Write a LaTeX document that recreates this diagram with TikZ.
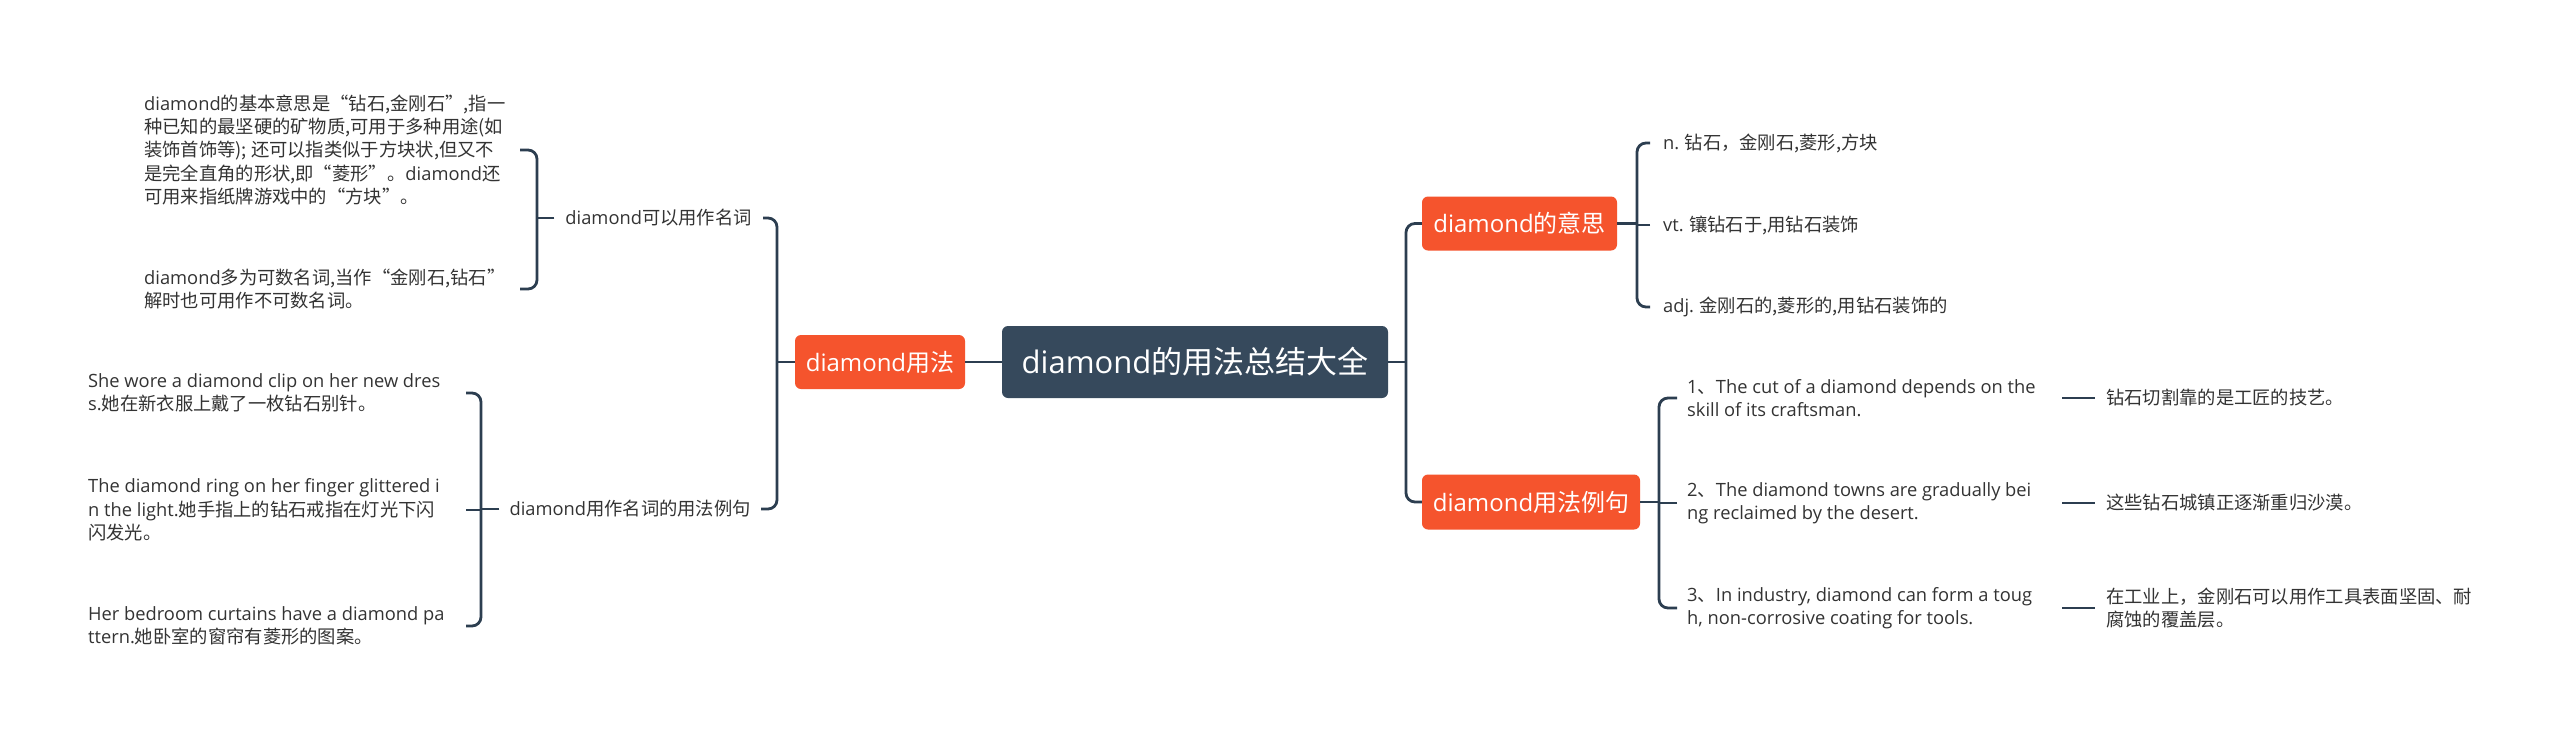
\documentclass[tikz,border=0pt]{standalone}
\usepackage{fontspec}
\setmainfont{Noto Sans CJK SC}
\newfontfamily\enfont{Open Sans}
\newcommand\enx[1]{{\enfont #1}}
\definecolor{rootc}{RGB}{54,73,92}
\definecolor{orangec}{RGB}{245,84,45}
\definecolor{linec}{RGB}{44,62,80}
\definecolor{leafc}{RGB}{51,51,51}
\begin{document}
\begin{tikzpicture}[x=1pt,y=-1pt,
  conn/.style={draw=linec,line width=2.8pt,rounded corners=9pt},
  tick/.style={draw=linec,line width=2.8pt},
  rootbox/.style={fill=rootc,text=white,rounded corners=6pt,minimum width=386pt,minimum height=72pt,inner sep=0pt,font=\fontsize{31}{38}\selectfont},
  mainbr/.style={fill=orangec,text=white,rounded corners=6pt,minimum height=54pt,inner xsep=8pt,font=\fontsize{24}{30}\selectfont},
  leaf/.style={text=leafc,inner sep=0pt,align=left,font=\fontsize{18.3}{23.4}\selectfont}]
\useasboundingbox[fill=white] (0,0) rectangle (2560,737);

% root and main branches
\node[rootbox] (root) at (1195,362) {\enx{diamond}的用法总结大全};
\node[mainbr,minimum width=170pt] (U) at (880,362) {\enx{diamond}用法};
\node[mainbr,minimum width=195pt] (M) at (1519.5,223.5) {\enx{diamond}的意思};
\node[mainbr,minimum width=218pt,minimum height=55pt] (X) at (1531,502) {\enx{diamond}用法例句};

% left subtopics
\node[leaf,anchor=east] (N1) at (752,218) {\enx{diamond}可以用作名词};
\node[leaf,anchor=east] (N2) at (751,509) {\enx{diamond}用作名词的用法例句};

\node[leaf,anchor=west] (L1) at (144,150) {\enx{diamond}的基本意思是“钻石,金刚石”,指一\\种已知的最坚硬的矿物质,可用于多种用途(如\\装饰首饰等); 还可以指类似于方块状,但又不\\是完全直角的形状,即“菱形”。\enx{diamond}还\\可用来指纸牌游戏中的“方块”。};
\node[leaf,anchor=west] (L2) at (144,289) {\enx{diamond}多为可数名词,当作“金刚石,钻石”\\解时也可用作不可数名词。};

\node[leaf,anchor=west] (E1) at (88,393) {\enx{She wore a diamond clip on her new dres}\\\enx{s.}她在新衣服上戴了一枚钻石别针。};
\node[leaf,anchor=west] (E2) at (88,510) {\enx{The diamond ring on her finger glittered i}\\\enx{n the light.}她手指上的钻石戒指在灯光下闪\\闪发光。};
\node[leaf,anchor=west] (E3) at (88,626) {\enx{Her bedroom curtains have a diamond pa}\\\enx{ttern.}她卧室的窗帘有菱形的图案。};

% right leaves
\node[leaf,anchor=west] (R1) at (1663,143) {\enx{n.} 钻石，金刚石,菱形,方块};
\node[leaf,anchor=west] (R2) at (1663,225) {\enx{vt.} 镶钻石于,用钻石装饰};
\node[leaf,anchor=west] (R3) at (1663,307) {\enx{adj.} 金刚石的,菱形的,用钻石装饰的};

\node[leaf,anchor=west] (S1) at (1687,398) {\enx{1}、\enx{The cut of a diamond depends on the}\\\enx{skill of its craftsman.}};
\node[leaf,anchor=west] (S2) at (1687,503) {\enx{2}、\enx{The diamond towns are gradually bei}\\\enx{ng reclaimed by the desert.}};
\node[leaf,anchor=west] (S3) at (1687,608) {\enx{3}、\enx{In industry, diamond can form a toug}\\\enx{h, non-corrosive coating for tools.}};

\node[leaf,anchor=west] (T1) at (2106,398) {钻石切割靠的是工匠的技艺。};
\node[leaf,anchor=west] (T2) at (2106,503) {这些钻石城镇正逐渐重归沙漠。};
\node[leaf,anchor=west] (T3) at (2106,608) {在工业上，金刚石可以用作工具表面坚固、耐\\腐蚀的覆盖层。};

% connector end points
\coordinate (bU) at (777,0);
\coordinate (bN1) at (537,0);
\coordinate (bN2) at (481,0);
\coordinate (bC) at (1406,0);
\coordinate (bM) at (1637,0);
\coordinate (bX) at (1659,0);
\coordinate (N1e) at ([xshift=11pt]N1.east);
\coordinate (N1w) at ([xshift=-11pt]N1.west);
\coordinate (N2e) at ([xshift=10pt]N2.east);
\coordinate (N2w) at ([xshift=-10pt]N2.west);
\coordinate (L1e) at ([xshift=376pt]L1.west);
\coordinate (L2e) at ([xshift=376pt]L2.west);
\coordinate (E1e) at ([xshift=378pt]E1.west);
\coordinate (E2e) at ([xshift=378pt]E2.west);
\coordinate (E3e) at ([xshift=378pt]E3.west);
\coordinate (R1w) at ([xshift=-13pt]R1.west);
\coordinate (R2w) at ([xshift=-13pt]R2.west);
\coordinate (R3w) at ([xshift=-13pt]R3.west);
\coordinate (S1w) at ([xshift=-10pt]S1.west);
\coordinate (S2w) at ([xshift=-10pt]S2.west);
\coordinate (S3w) at ([xshift=-10pt]S3.west);
\coordinate (S1e) at ([xshift=375pt]S1.west);
\coordinate (S2e) at ([xshift=375pt]S2.west);
\coordinate (S3e) at ([xshift=375pt]S3.west);
\coordinate (T1w) at ([xshift=-11pt]T1.west);
\coordinate (T2w) at ([xshift=-11pt]T2.west);
\coordinate (T3w) at ([xshift=-11pt]T3.west);

% connectors
\draw[tick] (root.west) -- (U.east);
\draw[tick] (U.west) -- (U.west -| bU);
\draw[conn] (N1e) -- (N1e -| bU) -- (N2e -| bU) -- (N2e);
\draw[tick] (N1w) -- (N1w -| bN1);
\draw[conn] (L1e) -- (L1e -| bN1) -- (L2e -| bN1) -- (L2e);
\draw[tick] (N2w) -- (N2w -| bN2);
\draw[conn] (E1e) -- (E1e -| bN2) -- (E3e -| bN2) -- (E3e);
\draw[tick] (E2e) -- (E2e -| bN2);

\draw[tick] (root.east) -- (root.east -| bC);
\draw[conn] (M.west) -- (M.west -| bC) -- (X.west -| bC) -- (X.west);
\draw[tick] (M.east) -- (M.east -| bM);
\draw[conn] (R1w) -- (R1w -| bM) -- (R3w -| bM) -- (R3w);
\draw[tick] (R2w) -- (R2w -| bM);
\draw[tick] (X.east) -- (X.east -| bX);
\draw[conn] (S1w) -- (S1w -| bX) -- (S3w -| bX) -- (S3w);
\draw[tick] (S2w) -- (S2w -| bX);
\draw[tick] (S1e) -- (T1w);
\draw[tick] (S2e) -- (T2w);
\draw[tick] (S3e) -- (T3w);
\end{tikzpicture}
\end{document}
